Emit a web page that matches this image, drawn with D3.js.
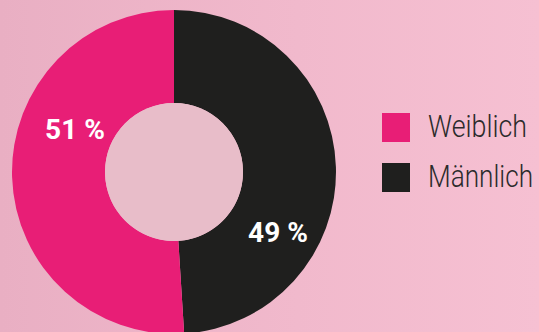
<!DOCTYPE html>
<html>
<head>
<meta charset="utf-8">
<script src="https://cdn.jsdelivr.net/npm/d3@7"></script>
<style>
  html, body { margin: 0; padding: 0; }
  body { width: 539px; height: 332px; overflow: hidden; }
</style>
</head>
<body>
<svg id="chart" width="539" height="332"></svg>
<script>
// Gender split
const categories = ["Weiblich", "Männlich"];
const shares = [51, 49];
const valueLabels = ["51 %", "49 %"];
const colors = ["#e81e76", "#1f1f1e"];

const width = 539, height = 332;
const cx = 174, cy = 172;
const outerR = 162, innerR = 69;

const svg = d3.select("#chart");

// soft pink backdrop
const defs = svg.append("defs");
const grad = defs.append("linearGradient").attr("id", "bg")
  .attr("x1", "0%").attr("y1", "0%").attr("x2", "100%").attr("y2", "0%");
grad.append("stop").attr("offset", "0%").attr("stop-color", "#e9afc3");
grad.append("stop").attr("offset", "55%").attr("stop-color", "#f1b9cc");
grad.append("stop").attr("offset", "100%").attr("stop-color", "#f6c0d2");
svg.append("rect").attr("width", width).attr("height", height).attr("fill", "url(#bg)");

// male slice starts at 12 o'clock and runs clockwise, female fills the rest
const order = [1, 0];
const pie = d3.pie().sort(null).value(i => shares[i]);
const arcs = pie(order);
const arc = d3.arc().innerRadius(innerR).outerRadius(outerR);

const g = svg.append("g").attr("transform", `translate(${cx},${cy})`);
g.selectAll("path.slice").data(arcs).join("path")
  .attr("class", "slice")
  .attr("d", arc)
  .attr("fill", d => colors[d.data]);

// hole
g.append("circle").attr("r", innerR).attr("fill", "#e8bdc9");

// value labels
const labelPos = {
  0: [-99, -33],
  1: [104, 70]
};
g.selectAll("text.val").data(arcs).join("text")
  .attr("class", "val")
  .attr("x", d => labelPos[d.data][0])
  .attr("y", d => labelPos[d.data][1])
  .attr("text-anchor", "middle")
  .attr("font-family", "Roboto, 'Open Sans', sans-serif")
  .attr("font-weight", 700)
  .attr("font-size", 28)
  .attr("fill", "#ffffff")
  .text(d => valueLabels[d.data]);

// legend
const legendWidths = [99, 105];
const legend = svg.append("g").attr("transform", "translate(382,113)");
const rows = legend.selectAll("g").data(categories).join("g")
  .attr("transform", (d, i) => `translate(0,${i * 50})`);
rows.append("rect").attr("width", 28).attr("height", 29)
  .attr("fill", (d, i) => colors[i]);
rows.append("text")
  .attr("x", 46).attr("y", 24)
  .attr("font-family", "Roboto, sans-serif")
  .attr("font-weight", 300)
  .attr("font-size", 32)
  .attr("textLength", (d, i) => legendWidths[i])
  .attr("lengthAdjust", "spacingAndGlyphs")
  .attr("fill", "#2b2b2b")
  .text(d => d);
</script>
</body>
</html>
